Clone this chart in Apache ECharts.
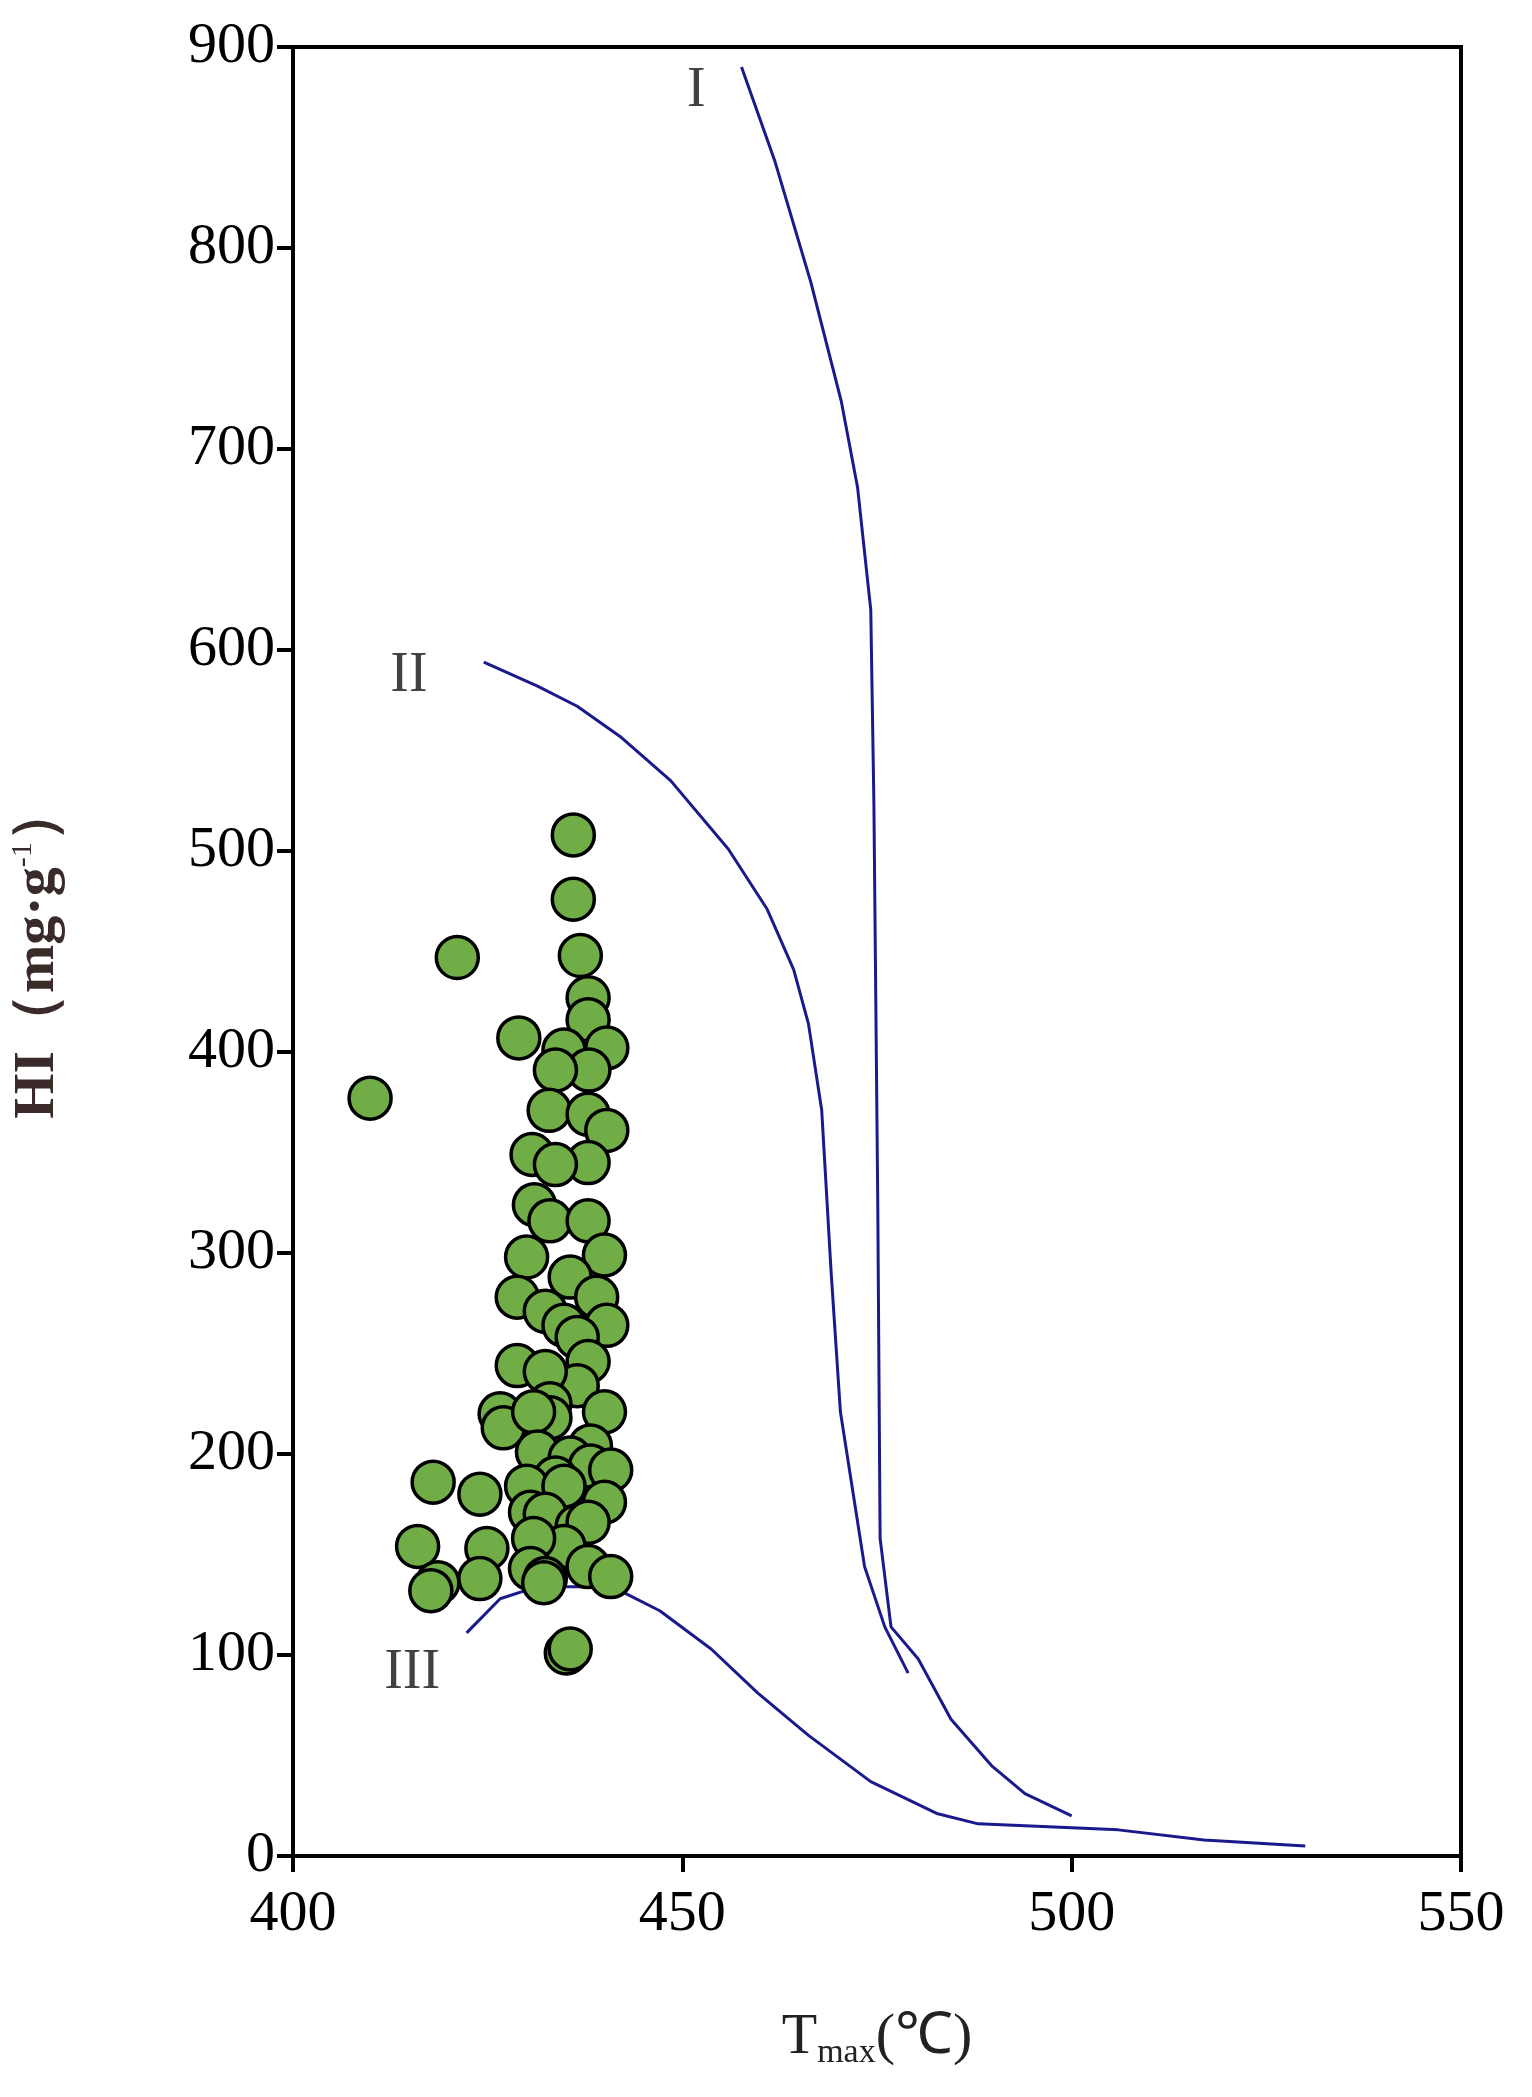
<!DOCTYPE html>
<html lang="en">
<head>
<meta charset="UTF-8">
<title>HI - Tmax</title>
<style>
  html, body { margin: 0; padding: 0; background: #fff; }
  #main { width: 1532px; height: 2097px; }
</style>
</head>
<body>
<div id="main"></div>
<script src="https://cdn.jsdelivr.net/npm/echarts@6/dist/echarts.min.js"></script>
<script>
// sample points [Tmax, HI]
const samples = [
  [436.0, 508], [436.0, 476], [436.9, 448], [421.1, 447], [409.9, 377],
  [429.0, 407], [437.9, 427], [437.9, 416], [440.3, 402], [434.8, 401],
  [438.0, 391], [433.7, 391], [432.9, 371], [437.9, 369], [440.3, 361],
  [430.7, 349], [437.9, 345], [433.7, 344], [431.0, 324], [433.0, 316],
  [437.9, 316], [430.0, 298], [440.0, 299], [435.6, 288], [428.8, 278],
  [439.0, 278], [432.4, 271], [440.3, 264], [434.8, 264], [436.5, 258],
  [428.8, 244], [437.9, 246], [436.5, 234], [432.4, 241], [433.0, 225],
  [426.6, 220], [427.0, 213], [433.0, 218], [440.0, 221], [430.9, 221],
  [438.2, 204], [431.4, 201], [435.6, 198], [438.2, 194], [440.8, 192],
  [433.7, 188], [430.0, 184], [434.8, 184], [418.0, 186], [424.0, 180],
  [440.0, 176], [430.5, 171], [432.4, 170], [436.5, 164], [437.9, 166],
  [416.0, 154], [424.9, 153], [434.8, 154], [430.9, 158], [437.9, 144],
  [440.8, 139], [430.5, 143], [432.4, 138], [424.0, 138], [418.6, 136],
  [417.7, 132], [432.2, 136], [435.1, 101], [435.6, 103]
];

// kerogen type boundary curves
const curveI = [
  [457.6, 890], [461.9, 843], [466.5, 783], [470.4, 724], [472.5, 681],
  [474.2, 620], [474.6, 524], [475.1, 324], [475.4, 158], [476.8, 114],
  [480.3, 98], [484.5, 68], [489.7, 45], [494.0, 31], [500.0, 20]
];
const curveII = [
  [424.5, 594], [431.4, 582], [436.5, 572], [442.0, 557], [448.5, 535],
  [455.9, 501], [460.9, 471], [464.3, 441], [466.2, 414], [467.9, 371],
  [469.1, 291], [470.3, 221], [473.4, 144], [476.0, 114], [479.0, 91]
];
const curveIII = [
  [422.3, 111], [426.6, 128], [431.4, 134], [438.2, 134], [442.5, 131],
  [447.1, 122], [453.7, 103], [459.7, 81], [466.2, 60], [474.2, 37],
  [482.8, 21], [488.0, 16], [506.0, 13], [517.0, 8], [530.0, 5]
];
const typeLabels = [
  { value: [451.8, 878], name: 'I' },
  { value: [414.9, 587], name: 'II' },
  { value: [415.3, 91], name: 'III' }
];

const font = 'Liberation Serif';
const lineColor = '#1a1a8c';

const chart = echarts.init(document.getElementById('main'));

function curve(data) {
  return {
    type: 'line', data, showSymbol: false, smooth: false,
    lineStyle: { color: lineColor, width: 3 }, z: 2, silent: true
  };
}

chart.setOption({
  animation: false,
  grid: {
    left: 290, right: 71, top: 47, bottom: 241,
    show: true, borderColor: '#000', borderWidth: 4
  },
  xAxis: {
    type: 'value', min: 400, max: 550, interval: 50,
    name: '{a|T}{s|max}{a|(℃)}',
    nameLocation: 'middle', nameGap: 150,
    nameTextStyle: {
      rich: {
        a: { fontFamily: font, fontSize: 58, color: '#222' },
        s: { fontFamily: font, fontSize: 34, color: '#222', padding: [30, 0, 0, 0] }
      }
    },
    axisLine: { lineStyle: { color: '#000', width: 4 } },
    axisTick: { length: 16, lineStyle: { color: '#000', width: 4 } },
    axisLabel: { fontFamily: font, fontSize: 58, color: '#000', margin: 30 },
    splitLine: { show: false }
  },
  yAxis: {
    type: 'value', min: 0, max: 900, interval: 100,
    name: '{a|HI（mg·g}{s|-1}{a|）}',
    nameLocation: 'middle', nameGap: 225,
    nameTextStyle: {
      rich: {
        a: { fontFamily: font, fontSize: 58, fontWeight: 'bold', color: '#3b2a2a' },
        s: { fontFamily: font, fontSize: 30, color: '#3b2a2a', padding: [0, 0, 30, 0] }
      }
    },
    axisLine: { lineStyle: { color: '#000', width: 4 } },
    axisTick: { length: 16, lineStyle: { color: '#000', width: 4 } },
    axisLabel: { fontFamily: font, fontSize: 58, color: '#000', margin: 18 },
    splitLine: { show: false }
  },
  series: [
    curve(curveI),
    curve(curveII),
    curve(curveIII),
    {
      type: 'scatter', data: samples, symbol: 'circle', symbolSize: 42,
      itemStyle: { color: '#70ad47', borderColor: '#000', borderWidth: 3.5, opacity: 1 },
      z: 3
    },
    {
      type: 'scatter', data: typeLabels, symbolSize: 0, silent: true,
      label: {
        show: true, position: 'inside', formatter: p => p.name,
        fontFamily: font, fontSize: 56, color: '#111'
      }
    }
  ]
});
</script>
</body>
</html>
